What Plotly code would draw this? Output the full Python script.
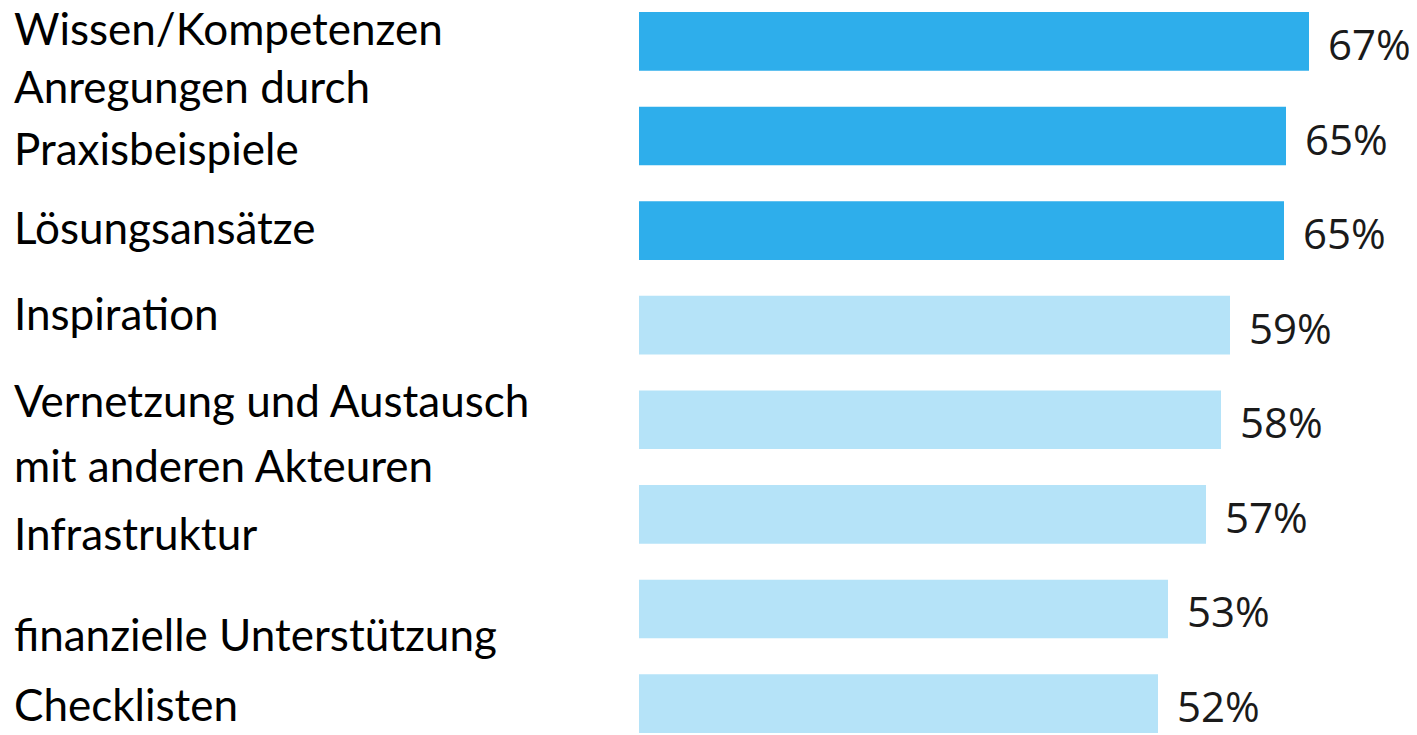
import plotly.graph_objects as go

categories = [
    "Wissen/Kompetenzen",
    "Anregungen durch Praxisbeispiele",
    "Lösungsansätze",
    "Inspiration",
    "Vernetzung und Austausch mit anderen Akteuren",
    "Infrastruktur",
    "finanzielle Unterstützung",
    "Checklisten",
]
values = [67.0, 64.7, 64.5, 59.1, 58.2, 56.7, 52.9, 51.9]
value_labels = ["67%", "65%", "65%", "59%", "58%", "57%", "53%", "52%"]
highlight = [True, True, True, False, False, False, False, False]

# label lines as displayed (category index, text, vertical offset in px relative to bar centre, + = down)
label_lines = [
    (0, "Wissen/Kompetenzen", -13),
    (1, "Anregungen durch", -50),
    (1, "Praxisbeispiele", 12),
    (2, "Lösungsansätze", -4),
    (3, "Inspiration", -12),
    (4, "Vernetzung und Austausch", -20),
    (4, "mit anderen Akteuren", 45),
    (5, "Infrastruktur", 19),
    (6, "finanzielle Unterstützung", 25),
    (7, "Checklisten", 0),
]

DARK = "#2EAEEB"
LIGHT = "#B5E3F8"
colors = [DARK if h else LIGHT for h in highlight]

fig = go.Figure()
fig.add_trace(go.Bar(
    x=values, y=categories, orientation="h",
    marker=dict(color=colors, line=dict(width=0)),
    width=0.62, hoverinfo="skip",
))

annotations = []
for i, (v, t) in enumerate(zip(values, value_labels)):
    annotations.append(dict(
        x=v, y=categories[i], xref="x", yref="y", text=t, showarrow=False,
        xanchor="left", yanchor="middle", xshift=17, yshift=-2,
        font=dict(family="Open Sans", size=42, color="#1a1a1a"),
    ))
for idx, txt, off in label_lines:
    annotations.append(dict(
        x=-627 / 778, y=categories[idx], xref="paper", yref="y", text=txt,
        showarrow=False, xanchor="left", yanchor="middle", yshift=-off,
        font=dict(family="Lato", size=44, color="#000000"),
    ))

fig.update_layout(
    width=1409, height=727,
    margin=dict(l=631, r=0, t=0, b=0),
    paper_bgcolor="white", plot_bgcolor="white",
    showlegend=False,
    annotations=annotations,
    xaxis=dict(range=[0, 77.8], visible=False, showgrid=False, zeroline=False),
    yaxis=dict(range=[7.332, -0.3531], visible=False, showgrid=False,
               categoryorder="array", categoryarray=categories),
)

fig.write_html("out.html")
